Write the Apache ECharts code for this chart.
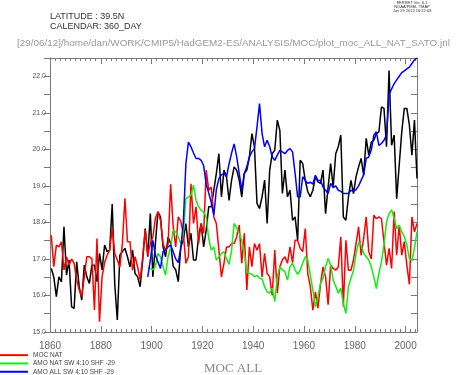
<!DOCTYPE html>
<html>
<head>
<meta charset="utf-8">
<script src="https://cdn.jsdelivr.net/npm/echarts@6/dist/echarts.min.js"></script>
<style>html,body{margin:0;padding:0;background:#fff}#c{width:456px;height:375px}</style>
</head>
<body>
<div id="c"></div>
<script>
// ---- data (annual values, plotted at mid-year) ----
const startYear = 1860;
const amoStartYear = 1898;
const xTickLabels = [1860, 1880, 1900, 1920, 1940, 1960, 1980, 2000];
const yTickLabels = [15.0, 16.0, 17.0, 18.0, 19.0, 20.0, 21.0, 22.0];
const seriesNames = ['MOC ALL', 'MOC NAT', 'AMO NAT SW 4:10 SHF -29', 'AMO ALL SW 4:10 SHF -29'];

const mocAll = [16.74,16.5,15.97,16.51,16.37,17.88,16.56,16.97,15.69,15.65,
 16.92,16.24,15.87,16.83,16.51,16.33,16.83,16.83,16.38,17.15,
 16.7,17.38,17.2,17.24,18.5,16.3,15.33,17.1,17.2,17.29,
 17.06,16.78,17.24,16.6,16.51,16.24,16.97,17.83,17.06,18.24,
 16.51,17.42,18.29,18.15,17.33,17.06,17.6,17.42,16.8,16.7,
 16.38,17.33,17.52,17.97,17.33,17.7,16.97,16.97,17.6,17.97,
 17.33,17.79,18.43,18.43,18.88,19.34,19.88,18.7,19.43,19.25,
 18.6,19.16,19.52,19.43,19.16,18.7,19.34,19.43,19.79,20.43,
 20.07,18.52,18.38,18.7,19.16,17.97,19.43,19.88,19.98,20.8,
 20.52,18.79,19.43,18.7,18.88,18.06,18.15,17.52,19.7,19.61,
 19.15,18.84,18.7,18.88,19.25,19.11,19.07,19.43,18.24,18.97,
 19.61,18.97,19.88,20.07,20.39,18.15,18.06,18.7,19.15,18.79,
 19.25,19.52,19.75,19.29,20.3,19.84,20.2,20.25,20.43,20.48,
 21.16,21.12,20.07,22.16,20.11,20.39,18.65,19.57,20.48,21.12,
 21.12,20.66,19.84,20.8,19.2];

const mocNat = [17.65,16.79,17.38,17.33,17.47,16.7,17.06,16.83,17.0,16.88,
 16.42,16.15,15.97,16.51,17.06,17.06,17.0,15.6,17.56,15.28,
 16.51,16.9,17.1,17.24,17.85,17.15,16.97,16.78,17.42,18.66,
 17.47,17.47,16.69,17.06,16.78,16.42,17.06,17.79,17.1,17.42,
 17.6,18.11,18.29,18.06,17.42,17.24,17.4,19.04,17.88,17.33,
 18.15,18.02,17.7,16.88,17.06,19.06,17.97,18.43,17.42,17.97,
 17.7,19.43,18.88,18.97,18.15,17.97,17.24,16.51,16.88,17.33,
 17.33,17.42,17.42,17.6,17.93,16.88,17.7,16.15,17.33,16.79,
 17.42,17.24,17.42,16.51,17.15,16.6,16.51,16.0,17.24,16.06,
 16.79,16.97,17.06,16.88,17.33,16.9,17.51,17.51,17.29,17.2,
 17.83,16.6,16.24,15.6,16.1,15.65,16.3,16.78,16.51,15.75,
 16.83,16.74,16.69,16.78,17.6,15.69,17.51,16.69,16.69,16.97,
 17.42,17.88,17.1,17.56,18.15,17.2,17.0,18.2,18.1,18.15,
 18.1,17.47,16.83,17.29,16.74,18.3,17.1,17.92,17.1,17.47,
 16.83,16.3,18.15,17.74,17.97];

const amoNat = [16.75,16.74,16.7,16.79,17.15,17.06,16.79,16.56,17.06,17.33,
 17.79,17.74,17.6,17.42,17.7,18.65,18.7,18.74,19.02,18.6,
 18.43,18.33,18.29,18.15,17.56,17.24,17.33,16.97,17.06,17.15,
 17.2,17.0,16.85,17.24,17.97,17.85,17.7,17.52,17.15,16.65,
 16.6,16.58,16.51,16.55,16.47,16.45,16.24,16.1,16.06,16.2,
 15.83,16.51,16.79,16.7,16.65,16.42,16.79,16.88,16.7,16.58,
 16.69,16.88,17.06,16.97,16.56,16.15,15.69,15.96,16.33,16.47,
 16.79,17.01,16.83,16.42,16.25,16.06,16.2,15.78,15.51,16.24,
 16.47,16.69,17.15,17.45,17.38,17.15,17.06,16.97,16.79,16.51,
 16.19,16.6,16.92,17.38,18.02,18.24,18.34,18.11,17.83,17.92,
 17.74,17.61,17.38,17.01,16.95,17.3,17.74];

const amoAll = [16.51,16.97,17.51,17.1,16.92,16.74,17.2,17.25,17.33,17.38,
 17.2,17.0,16.9,17.3,18.0,19.6,20.2,20.07,19.9,19.75,
 19.75,19.7,19.55,19.05,18.8,18.55,18.2,18.9,19.2,19.3,
 19.34,19.25,19.6,19.9,20.15,19.8,19.34,18.88,19.34,19.52,
 19.79,19.93,20.02,20.61,21.25,20.43,20.07,20.25,20.07,19.79,
 19.7,19.84,19.97,19.93,19.88,19.97,20.02,19.93,19.34,18.7,
 18.7,19.25,19.15,19.07,19.1,19.05,19.29,19.15,19.15,18.97,
 18.88,18.79,19.07,18.95,19.0,18.88,18.85,18.79,18.79,18.79,
 18.88,18.85,18.9,19.0,19.15,19.3,19.75,19.79,19.98,20.39,
 20.48,20.11,20.16,20.25,20.39,21.5,21.65,21.8,21.9,22.0,
 22.1,22.15,22.2,22.25,22.35,22.45,22.5];

function toPairs(vals, y0) { return vals.map((v, k) => [y0 + k + 0.5, v]); }

const chart = echarts.init(document.getElementById('c'), null, {renderer: 'canvas'});
const axisGray = '#7a7a7a';
const gridBox = {left: 50, right: 39, top: 58, bottom: 43};
const xMin = 1860, xMax = 2004.5;

function xAx(pos, interval, len, showLine, showLabel) {
  return {
    type: 'value', position: pos, min: xMin, max: xMax, interval: interval,
    axisLine: {show: showLine, onZero: false, lineStyle: {color: axisGray, width: 1}},
    axisTick: {show: true, inside: true, length: len, lineStyle: {color: axisGray}},
    axisLabel: {show: showLabel, margin: 9, color: '#666', fontSize: 10, fontFamily: 'Liberation Sans',
      formatter: v => xTickLabels.indexOf(v) >= 0 ? String(v) : ''},
    splitLine: {show: false}
  };
}
function yAx(pos, inside, showLabel) {
  return {
    type: 'value', position: pos, min: 15, max: 22.5, interval: 0.5,
    axisLine: {show: true, onZero: false, lineStyle: {color: axisGray, width: 1}},
    axisTick: {show: true, inside: inside, length: 6, lineStyle: {color: axisGray}},
    axisLabel: {show: showLabel, margin: 4, color: '#555', fontSize: 7, fontFamily: 'Liberation Sans',
      formatter: v => yTickLabels.indexOf(v) >= 0 ? v.toFixed(1) : ''},
    splitLine: {show: false}
  };
}

const lineColors = ['#000000', '#ff0000', '#11ee11', '#0000ff'];
const dataSets = [toPairs(mocAll, startYear), toPairs(mocNat, startYear),
                  toPairs(amoNat, amoStartYear), toPairs(amoAll, amoStartYear)];

chart.setOption({
  animation: false,
  backgroundColor: '#fff',
  grid: gridBox,
  xAxis: [xAx('bottom', 20, 6, true, true), xAx('bottom', 2, 3, false, false),
          xAx('top', 20, 6, true, false), xAx('top', 2, 3, false, false)],
  yAxis: [yAx('left', false, true), yAx('right', true, false)],
  legend: {
    orient: 'vertical', left: 0, top: 351, height: 60, padding: 0, itemGap: 0,
    itemWidth: 28, itemHeight: 2, icon: 'rect',
    data: seriesNames.slice(1),
    textStyle: {fontSize: 6.5, lineHeight: 8.3, color: '#444', fontFamily: 'Liberation Sans'}
  },
  series: dataSets.map((d, k) => ({
    name: seriesNames[k], type: 'line', data: d, xAxisIndex: 0, yAxisIndex: 0,
    showSymbol: false, symbol: 'none', z: 2 + k,
    lineStyle: {color: lineColors[k], width: 1.5},
    itemStyle: {color: lineColors[k]}
  })),
  graphic: [
    {type: 'text', left: 50, top: 12, style: {text: 'LATITUDE : 39.5N', font: '9px "Liberation Sans"', fill: '#333'}},
    {type: 'text', left: 50, top: 22, style: {text: 'CALENDAR: 360_DAY', font: '9px "Liberation Sans"', fill: '#333'}},
    {type: 'text', left: 17, top: 38, style: {text: '[29/06/12]/home/dan/WORK/CMIP5/HadGEM2-ES/ANALYSIS/MOC/plot_moc_ALL_NAT_SATO.jnl', font: '9.9px "Liberation Sans"', fill: '#999'}},
    {type: 'text', x: 412, y: 1, style: {text: 'FERRET Ver. 6.1\nNOAA/PMEL TMAP\nJun 29 2012 16:22:08', font: '4px "Liberation Sans"', lineHeight: 4, fill: '#333', align: 'center'}},
    {type: 'text', x: 233, y: 369, style: {text: 'MOC ALL', font: '13px "Liberation Serif"', fill: '#888', align: 'center', verticalAlign: 'middle'}}
  ]
});
</script>
</body>
</html>
